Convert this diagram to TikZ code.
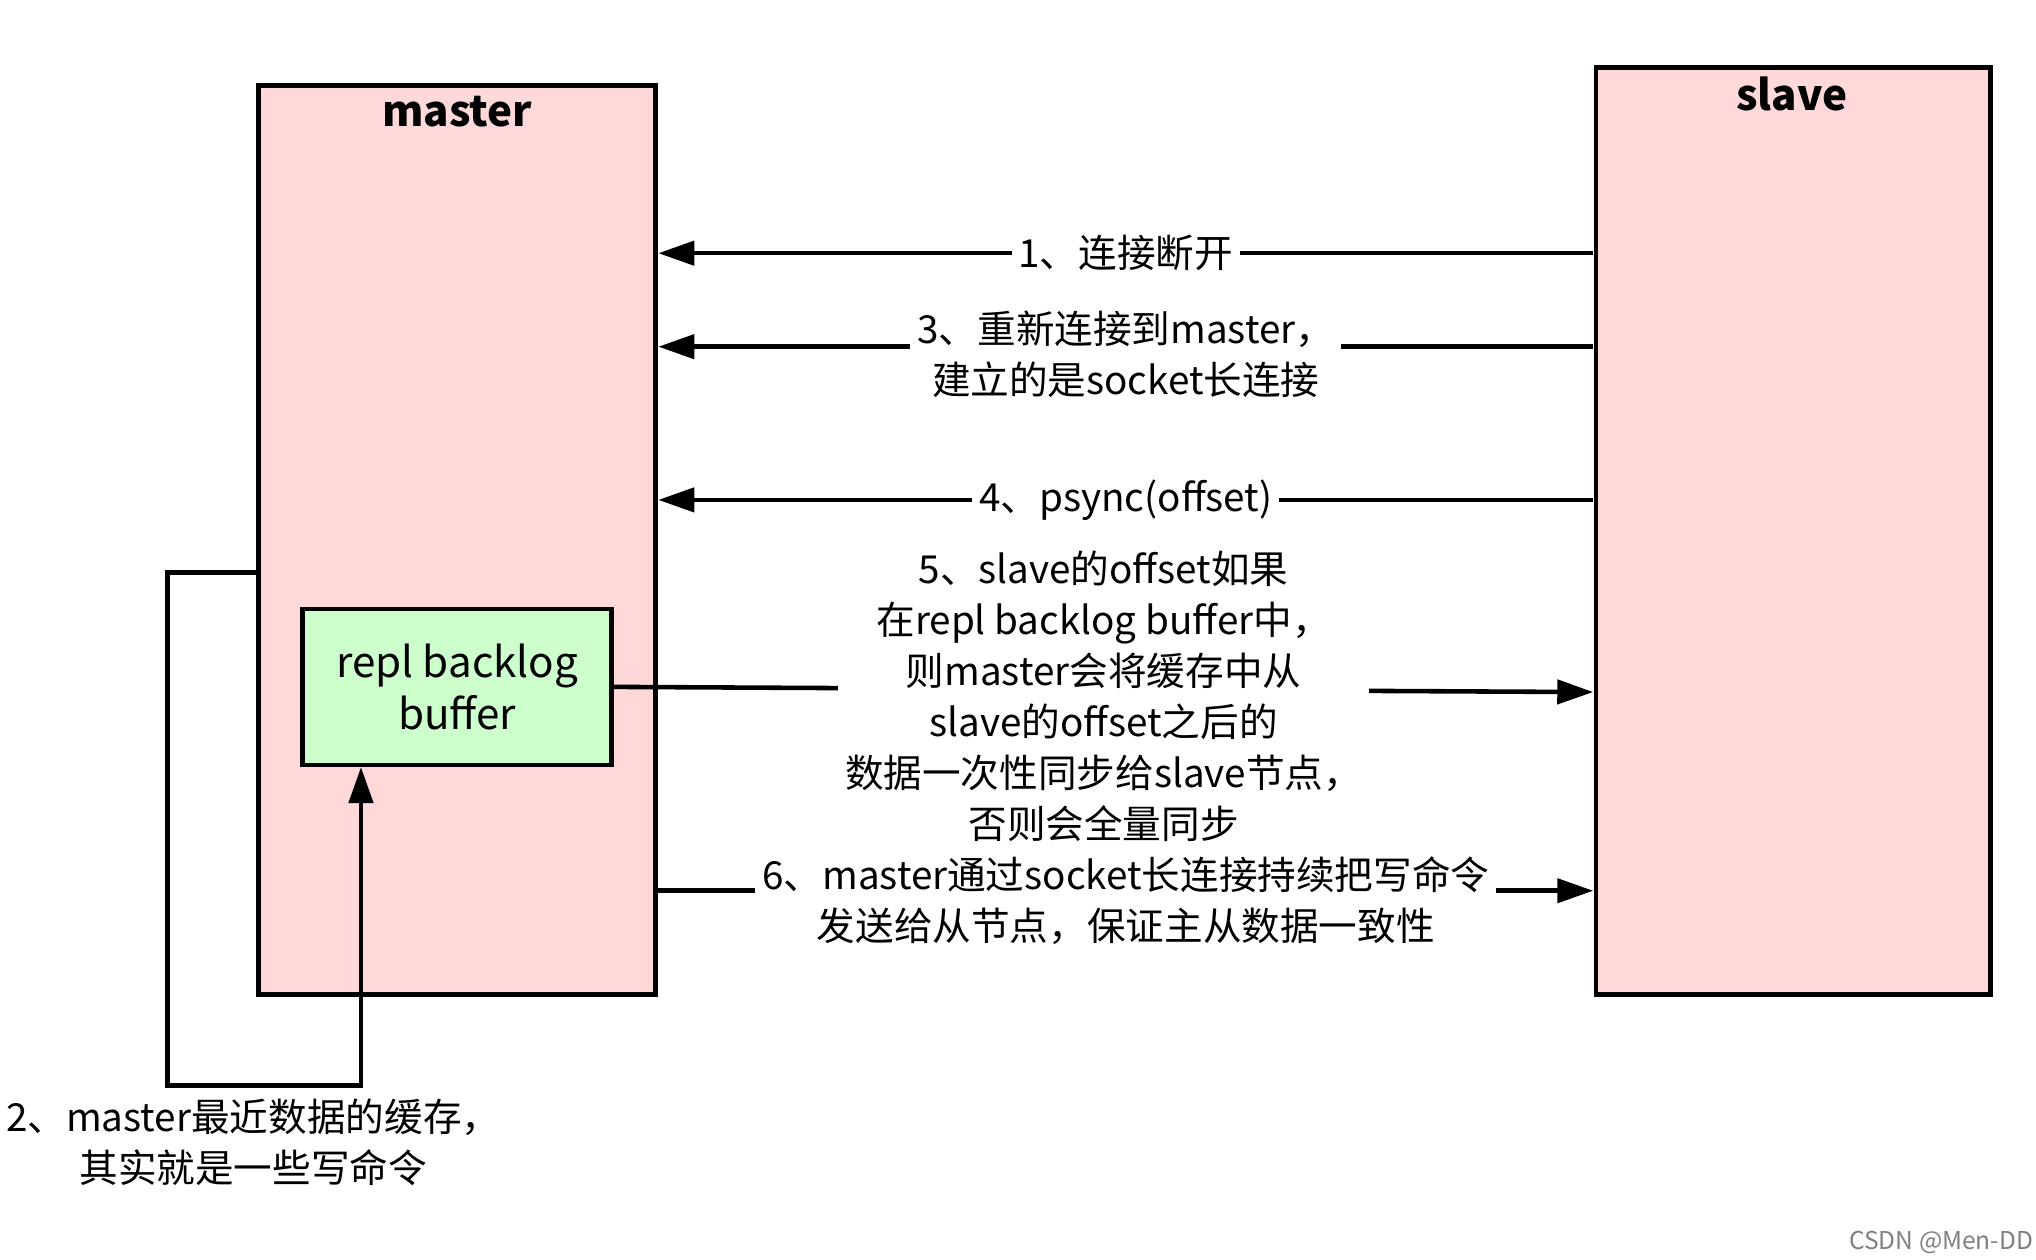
\documentclass[tikz,border=0pt]{standalone}
\usepackage{fontspec}
\setmainfont{Noto Sans CJK SC}
\usetikzlibrary{arrows.meta}
\tikzset{
  box/.style={draw, line width=1.3pt, fill=red!15},
  flow/.style={line width=1.3pt, -{Triangle[length=3.6mm,width=2.4mm]}},
  lbl/.style={fill=white, align=center, inner sep=2pt, font=\fontsize{11}{14.5}\selectfont}
}
\begin{document}
\begin{tikzpicture}[x=0.013cm,y=-0.013cm]
	% Canvas
	\useasboundingbox (0,0) rectangle (1568,970);

	% Boxes
	\draw[box] (199,66) rectangle (505,766);
	\draw[box] (1229,52) rectangle (1533,766);
	\node[font=\bfseries\fontsize{12}{14}\selectfont] (mtitle) at (352,86) {master};
	\node[font=\bfseries\fontsize{12}{14}\selectfont] (stitle) at (1380,72) {slave};
	\node[draw, line width=1.3pt, fill=green!20, minimum width=238*0.013cm, minimum height=120*0.013cm,
	      align=center, font=\fontsize{12}{15}\selectfont] (buf) at (352,529) {repl backlog\\buffer};

	% Anchors on the boxes
	\foreach \n/\y in {a/195, b/267, c/385, d/533, e/686} {
		\coordinate (m\n) at (507,\y);
		\coordinate (s\n) at (1227,\y);
	}
	\coordinate (mloop) at (199,441);

	% Data
	\draw[flow] (sa) -- (ma) node[lbl, pos=0.5] (l1) {1、连接断开};
	\draw[flow] (sb) -- (mb) node[lbl, pos=0.5, yshift=-0.08cm] (l3) {3、重新连接到master，\\建立的是socket长连接};
	\draw[flow] (sc) -- (mc) node[lbl, pos=0.5] (l4) {4、psync(offset)};
	\draw[flow] (buf.east) -- (sd) node[lbl, pos=0.5, yshift=-0.07cm] (l5) {5、slave的offset如果\\在repl backlog buffer中，\\则master会将缓存中从\\slave的offset之后的\\数据一次性同步给slave节点，\\否则会全量同步};
	\draw[flow] (me) -- (se) node[lbl, pos=0.5, yshift=-0.1cm] (l6) {6、master通过socket长连接持续把写命令\\发送给从节点，保证主从数据一致性};
	\draw[flow] (mloop) -- (129,441) -- (129,836) -- (278,836) -- (buf.south -| 278,0);

	\node[lbl, fill=none] (l2) at (195,880) {2、master最近数据的缓存，\\其实就是一些写命令};
	\node[font=\fontsize{7}{8}\selectfont, text=gray] (mark) at (1495,957) {CSDN @Men-DD};
\end{tikzpicture}
\end{document}
